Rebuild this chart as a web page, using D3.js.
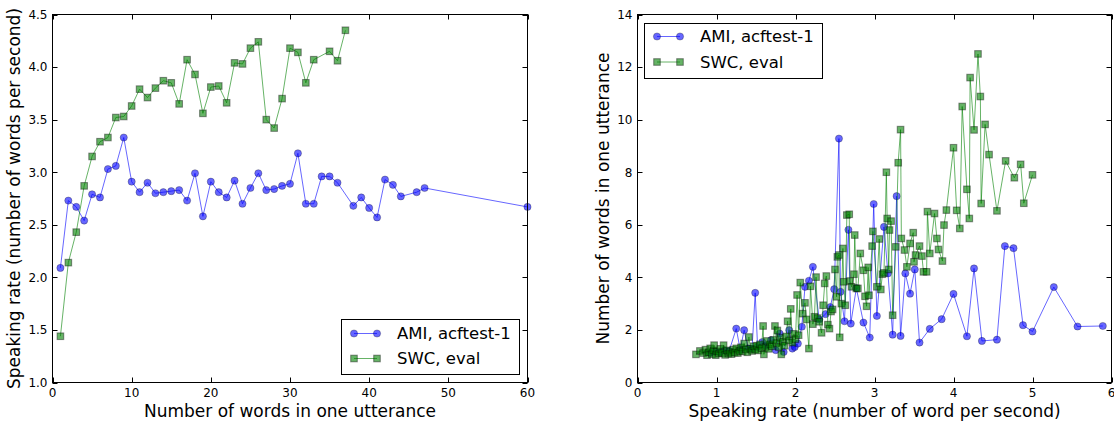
<!DOCTYPE html>
<html><head><meta charset="utf-8">
<script src="https://cdn.jsdelivr.net/npm/d3@7"></script>
<style>body{margin:0;background:#fff}svg{display:block}text{font-family:"DejaVu Sans",sans-serif;fill:#000}</style>
</head><body>
<script>
// ---- Left chart: speaking rate vs words per utterance ----
const amiWords = [1,2,3,4,5,6,7,8,9,10,11,12,13,14,15,16,17,18,19,20,21,22,23,24,25,26,27,28,29,30,31,32,33,34,35,36,38,39,40,41,42,43,44,46,47,60];
const amiRate  = [2.09,2.73,2.67,2.54,2.79,2.76,3.03,3.06,3.33,2.91,2.81,2.90,2.80,2.81,2.82,2.83,2.73,2.99,2.58,2.91,2.81,2.76,2.92,2.70,2.85,2.99,2.83,2.84,2.87,2.89,3.18,2.70,2.70,2.96,2.96,2.90,2.68,2.76,2.66,2.57,2.93,2.88,2.77,2.81,2.85,2.67];
const swcWords = [1,2,3,4,5,6,7,8,9,10,11,12,13,14,15,16,17,18,19,20,21,22,23,24,25,26,27,28,29,30,31,32,33,35,36,37];
const swcRate  = [1.44,2.14,2.43,2.87,3.15,3.29,3.33,3.52,3.53,3.63,3.79,3.71,3.80,3.87,3.85,3.65,4.07,3.93,3.56,3.81,3.82,3.66,4.04,4.03,4.18,4.24,3.50,3.42,3.70,4.18,4.14,3.85,4.07,4.15,4.06,4.35];

// ---- Right chart: words per utterance vs speaking rate ----
const amiRateX  = [0.92,0.98,1.04,1.10,1.16,1.25,1.30,1.35,1.40,1.45,1.49,1.52,1.58,1.62,1.69,1.75,1.80,1.85,1.92,1.96,1.99,2.03,2.08,2.12,2.17,2.22,2.30,2.38,2.44,2.49,2.55,2.57,2.62,2.67,2.70,2.77,2.86,2.94,2.99,3.03,3.12,3.17,3.23,3.28,3.33,3.39,3.45,3.51,3.57,3.70,3.85,4.00,4.17,4.26,4.36,4.55,4.65,4.76,4.88,5.00,5.27,5.57,5.89];
const amiWordsY = [1.12,1.18,1.15,1.22,1.20,2.05,1.25,1.99,1.30,1.28,3.41,1.35,1.54,1.40,1.61,1.23,1.86,1.16,1.99,1.29,1.35,1.48,2.12,3.64,3.87,4.40,2.40,2.60,2.87,3.55,9.28,3.45,2.33,5.81,2.24,3.59,2.28,1.71,6.79,2.53,5.92,4.15,1.82,7.09,1.77,4.15,3.38,4.30,1.52,2.04,2.41,3.37,1.76,4.34,1.58,1.63,5.19,5.11,2.18,1.94,3.63,2.13,2.15];
const swcRateX  = [0.74,0.79,0.83,0.86,0.88,0.90,0.92,0.94,0.96,0.97,0.99,1.01,1.03,1.05,1.07,1.09,1.11,1.13,1.15,1.17,1.19,1.21,1.23,1.25,1.27,1.29,1.31,1.33,1.35,1.37,1.39,1.41,1.43,1.45,1.47,1.49,1.51,1.53,1.55,1.57,1.59,1.60,1.62,1.64,1.66,1.68,1.70,1.72,1.74,1.76,1.77,1.79,1.81,1.82,1.84,1.86,1.88,1.90,1.92,1.94,1.96,1.98,2.00,2.02,2.04,2.06,2.09,2.12,2.14,2.17,2.19,2.22,2.24,2.26,2.28,2.30,2.33,2.35,2.37,2.39,2.41,2.43,2.45,2.47,2.50,2.52,2.53,2.55,2.56,2.58,2.60,2.61,2.63,2.65,2.68,2.69,2.71,2.74,2.75,2.77,2.79,2.82,2.86,2.88,2.90,2.92,2.93,2.97,2.98,3.03,3.06,3.08,3.10,3.12,3.15,3.16,3.18,3.19,3.21,3.23,3.27,3.30,3.33,3.34,3.38,3.41,3.45,3.49,3.50,3.52,3.57,3.60,3.62,3.66,3.67,3.70,3.76,3.79,3.81,3.86,3.88,3.91,4.00,4.04,4.08,4.11,4.17,4.20,4.21,4.26,4.31,4.34,4.35,4.40,4.45,4.55,4.66,4.77,4.85,4.89,5.00];
const swcWordsY = [1.07,1.20,1.12,1.25,1.04,1.15,1.30,1.08,1.22,1.42,1.04,1.18,1.10,1.28,1.12,1.42,1.05,1.22,1.10,1.16,1.08,1.25,1.14,1.30,1.12,1.20,1.34,1.18,1.48,1.26,1.15,1.73,1.28,1.20,1.38,1.25,1.40,1.22,1.45,1.30,2.15,1.07,1.35,1.58,1.28,1.45,1.38,1.62,2.15,1.50,1.98,1.35,1.70,1.07,1.55,1.40,1.75,2.33,1.60,2.80,1.52,1.85,1.65,3.33,1.80,3.80,2.62,3.03,2.40,1.29,3.66,2.22,2.50,4.01,2.45,2.31,1.89,2.94,3.77,4.05,2.20,2.05,2.70,2.78,4.30,3.26,4.78,4.85,1.72,3.00,5.10,3.83,2.94,6.37,6.40,3.86,3.64,4.12,5.61,3.58,3.58,4.91,4.27,3.28,2.90,4.38,3.32,5.19,5.75,3.64,5.46,3.54,4.12,4.17,8.00,6.24,4.30,5.80,6.14,2.56,5.16,8.36,9.62,5.48,5.04,4.40,5.29,5.70,4.59,4.85,5.19,4.81,4.21,4.21,6.50,4.91,6.43,5.48,5.06,4.62,5.99,6.56,8.93,6.55,5.86,10.50,7.35,6.24,11.60,9.61,12.50,10.88,6.81,9.82,8.67,6.53,8.43,7.79,8.30,6.82,7.90];

const leftXTicks = [0,10,20,30,40,50,60];
const leftYTicks = [1.0,1.5,2.0,2.5,3.0,3.5,4.0,4.5];
const rightXTicks = [0,1,2,3,4,5,6];
const rightYTicks = [0,2,4,6,8,10,12,14];
const seriesNames = ["AMI, acftest-1","SWC, eval"];

const W = 1114, H = 423;
const svg = d3.select("body").append("svg").attr("width", W).attr("height", H);

const TOP = 14.5, BOTTOM = 382.5;

function panel(cfg) {
  const x = d3.scaleLinear().domain(cfg.xDomain).range([cfg.left, cfg.right]);
  const y = d3.scaleLinear().domain(cfg.yDomain).range([BOTTOM, TOP]);
  const g = svg.append("g");
  const clipId = "clip" + cfg.id;
  svg.append("clipPath").attr("id", clipId).append("rect")
    .attr("x", cfg.left - 6).attr("y", TOP - 6).attr("width", cfg.right - cfg.left + 12).attr("height", BOTTOM - TOP + 12);

  const series = [
    {xs: cfg.s1x, ys: cfg.s1y, color: "#0000ff", shape: "circle"},
    {xs: cfg.s2x, ys: cfg.s2y, color: "#008000", shape: "square"}
  ];
  const line = d3.line().x(d => x(d[0])).y(d => y(d[1]));
  series.forEach(s => {
    const pts = d3.zip(s.xs, s.ys);
    const sg = g.append("g").attr("clip-path", `url(#${clipId})`);
    sg.append("path").attr("d", line(pts)).attr("fill", "none")
      .attr("stroke", s.color).attr("stroke-opacity", 0.6).attr("stroke-width", 1);
    drawMarkers(sg, pts.map(p => [x(p[0]), y(p[1])]), s);
  });

  // frame
  g.append("rect").attr("x", cfg.left).attr("y", TOP).attr("width", cfg.right - cfg.left).attr("height", BOTTOM - TOP)
    .attr("fill", "none").attr("stroke", "#000").attr("stroke-width", 1);

  // ticks (inward, all four sides)
  const tl = 5;
  cfg.xTicks.forEach(t => {
    const px = Math.round(x(t)) + 0.5;
    g.append("line").attr("x1", px).attr("x2", px).attr("y1", BOTTOM).attr("y2", BOTTOM - tl).attr("stroke", "#000");
    g.append("line").attr("x1", px).attr("x2", px).attr("y1", TOP).attr("y2", TOP + tl).attr("stroke", "#000");
    g.append("text").attr("x", x(t)).attr("y", 397).attr("text-anchor", "middle").attr("font-size", 12).text(cfg.xFmt(t));
  });
  cfg.yTicks.forEach(t => {
    const py = Math.round(y(t)) + 0.5;
    g.append("line").attr("x1", cfg.left).attr("x2", cfg.left + tl).attr("y1", py).attr("y2", py).attr("stroke", "#000");
    g.append("line").attr("x1", cfg.right).attr("x2", cfg.right - tl).attr("y1", py).attr("y2", py).attr("stroke", "#000");
    g.append("text").attr("x", cfg.left - 5).attr("y", y(t)).attr("dy", "0.36em").attr("text-anchor", "end").attr("font-size", 12).text(cfg.yFmt(t));
  });

  // axis labels
  g.append("text").attr("x", (cfg.left + cfg.right) / 2).attr("y", 417).attr("text-anchor", "middle")
    .attr("font-size", 17).text(cfg.xLabel);
  g.append("text").attr("transform", `translate(${cfg.yLabelX},${(TOP + BOTTOM) / 2}) rotate(-90)`)
    .attr("text-anchor", "middle").attr("font-size", 17).text(cfg.yLabel);

  // legend
  const L = cfg.legend;
  g.append("rect").attr("x", L.x).attr("y", L.y).attr("width", L.w).attr("height", L.h)
    .attr("fill", "#fff").attr("stroke", "#000").attr("stroke-width", 1);
  series.forEach((s, i) => {
    const ry = L.rows[i];
    g.append("line").attr("x1", L.m1).attr("x2", L.m2).attr("y1", ry).attr("y2", ry)
      .attr("stroke", s.color).attr("stroke-opacity", 0.6).attr("stroke-width", 1);
    drawMarkers(g, [[L.m1, ry], [L.m2, ry]], s);
    g.append("text").attr("x", L.tx).attr("y", ry).attr("dy", "0.36em").attr("font-size", 16.5).text(seriesNames[i]);
  });
}

function drawMarkers(sel, pts, s) {
  if (s.shape === "circle") {
    sel.selectAll(null).data(pts).enter().append("circle")
      .attr("cx", d => d[0]).attr("cy", d => d[1]).attr("r", 3.6)
      .attr("fill", s.color).attr("fill-opacity", 0.6)
      .attr("stroke", "#000").attr("stroke-opacity", 0.45).attr("stroke-width", 0.6);
  } else {
    sel.selectAll(null).data(pts).enter().append("rect")
      .attr("x", d => d[0] - 3.3).attr("y", d => d[1] - 3.3).attr("width", 6.6).attr("height", 6.6)
      .attr("fill", s.color).attr("fill-opacity", 0.6)
      .attr("stroke", "#000").attr("stroke-opacity", 0.4).attr("stroke-width", 1.1);
  }
}

panel({
  id: "L", left: 52.5, right: 527.5, xDomain: [0, 60], yDomain: [1, 4.5],
  s1x: amiWords, s1y: amiRate, s2x: swcWords, s2y: swcRate,
  xTicks: leftXTicks, yTicks: leftYTicks, xFmt: d3.format("d"), yFmt: d3.format(".1f"),
  xLabel: "Number of words in one utterance", yLabel: "Speaking rate (number of words per second)", yLabelX: 20,
  legend: {x: 341.5, y: 319.5, w: 178, h: 55, rows: [333.5, 358.5], m1: 354, m2: 377, tx: 397}
});
panel({
  id: "R", left: 637.5, right: 1111.5, xDomain: [0, 6], yDomain: [0, 14],
  s1x: amiRateX, s1y: amiWordsY, s2x: swcRateX, s2y: swcWordsY,
  xTicks: rightXTicks, yTicks: rightYTicks, xFmt: d3.format("d"), yFmt: d3.format("d"),
  xLabel: "Speaking rate (number of word per second)", yLabel: "Number of words in one utterance", yLabelX: 608.5,
  legend: {x: 644.5, y: 23.5, w: 178, h: 55, rows: [36.5, 62], m1: 657, m2: 680, tx: 700}
});
</script>
</body></html>
